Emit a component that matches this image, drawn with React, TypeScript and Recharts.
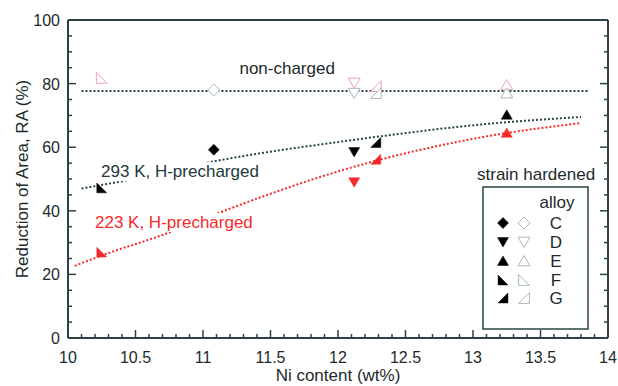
import React from 'react';
import { ComposedChart, Line, Scatter, XAxis, YAxis, ReferenceDot } from 'recharts';

const FONT = '"Liberation Sans", Arial, Helvetica, sans-serif';
const AXIS = '#2a4446';
const INK = '#1c2a2c';
const RED = '#f42a2a';
const GREY_OPEN = '#a9b9c2';
const PINK_OPEN = '#f2a3ab';

const alloys = ['C', 'D', 'E', 'F', 'G'];

// filled symbols: 293 K, H-precharged
const h293 = [
  { ni: 10.25, ra: 47.2, alloy: 'F' },
  { ni: 11.08, ra: 59.2, alloy: 'C' },
  { ni: 12.12, ra: 58.5, alloy: 'D' },
  { ni: 12.28, ra: 61.5, alloy: 'G' },
  { ni: 13.25, ra: 70.2, alloy: 'E' },
];
// filled symbols: 223 K, H-precharged
const h223 = [
  { ni: 10.25, ra: 27, alloy: 'F' },
  { ni: 12.12, ra: 49, alloy: 'D' },
  { ni: 12.28, ra: 56.2, alloy: 'G' },
  { ni: 13.25, ra: 64.5, alloy: 'E' },
];
// open symbols: non-charged
const nc293 = [
  { ni: 11.08, ra: 78, alloy: 'C' },
  { ni: 12.12, ra: 77, alloy: 'D' },
  { ni: 12.28, ra: 77, alloy: 'G' },
  { ni: 13.25, ra: 77, alloy: 'E' },
];
const nc223 = [
  { ni: 10.25, ra: 81.8, alloy: 'F' },
  { ni: 12.12, ra: 80.2, alloy: 'D' },
  { ni: 12.28, ra: 79.2, alloy: 'G' },
  { ni: 13.25, ra: 79.6, alloy: 'E' },
];

// dotted guide lines
const fitNc = [
  { ni: 10.1, ra: 77.7 },
  { ni: 13.85, ra: 77.7 },
];
const fit293 = [
  { ni: 10.1, ra: 47 },
  { ni: 10.4, ra: 49.3 },
  { ni: 11.1, ra: 55.7 },
  { ni: 12.1, ra: 62.2 },
  { ni: 13.1, ra: 67.3 },
  { ni: 13.8, ra: 69.5 },
];
const fit223 = [
  { ni: 10.05, ra: 22.7 },
  { ni: 10.3, ra: 26.7 },
  { ni: 10.7, ra: 32.4 },
  { ni: 11.07, ra: 38.6 },
  { ni: 12.09, ra: 53.5 },
  { ni: 13.1, ra: 63.4 },
  { ni: 13.8, ra: 67.6 },
];

const xTicks = [10, 10.5, 11, 11.5, 12, 12.5, 13, 13.5, 14];
const yTicks = [0, 20, 40, 60, 80, 100];
const xMinor = Array.from({ length: 41 }, (_, i) => Math.round((10 + i * 0.1) * 10) / 10);
const yMinor = Array.from({ length: 21 }, (_, i) => i * 5);

function markerPoints(alloy: string, cx: number, cy: number, r: number) {
  switch (alloy) {
    case 'C':
      return `${cx},${cy - r} ${cx + r},${cy} ${cx},${cy + r} ${cx - r},${cy}`;
    case 'D':
      return `${cx - r},${cy - r * 0.8} ${cx + r},${cy - r * 0.8} ${cx},${cy + r * 0.9}`;
    case 'E':
      return `${cx - r},${cy + r * 0.8} ${cx + r},${cy + r * 0.8} ${cx},${cy - r * 0.9}`;
    case 'F':
      return `${cx - r * 0.9},${cy - r * 0.9} ${cx - r * 0.9},${cy + r * 0.9} ${cx + r * 0.9},${cy + r * 0.9}`;
    default:
      return `${cx + r * 0.9},${cy - r * 0.9} ${cx + r * 0.9},${cy + r * 0.9} ${cx - r * 0.9},${cy + r * 0.9}`;
  }
}

const Marker = ({ cx, cy, alloy, color, open }: any) => (
  <polygon
    points={markerPoints(alloy, cx, cy, open ? 6 : 5.5)}
    fill={open ? '#fff' : color}
    stroke={color}
    strokeWidth={open ? 1 : 0.5}
  />
);

const shapeFor = (color: string, open: boolean) => (p: any) =>
  <Marker cx={p.cx} cy={p.cy} alloy={p.payload.alloy} color={color} open={open} />;

const BottomTick = ({ x, y, payload }: any) => {
  const major = xTicks.includes(payload.value);
  return (
    <g>
      <line x1={x} x2={x} y1={y} y2={y - (major ? 8 : 4)} stroke={AXIS} strokeWidth={1.5} />
      {major && (
        <text x={x} y={y + 25} textAnchor="middle" fontSize={16} fill={INK} fontFamily={FONT}>
          {payload.value}
        </text>
      )}
    </g>
  );
};
const TopTick = ({ x, y, payload }: any) => {
  const major = xTicks.includes(payload.value);
  return <line x1={x} x2={x} y1={y} y2={y + (major ? 8 : 4)} stroke={AXIS} strokeWidth={1.5} />;
};
const LeftTick = ({ x, y, payload }: any) => {
  const major = yTicks.includes(payload.value);
  return (
    <g>
      <line x1={x} x2={x + (major ? 8 : 4)} y1={y} y2={y} stroke={AXIS} strokeWidth={1.5} />
      {major && (
        <text x={x - 8} y={y + 6} textAnchor="end" fontSize={16} fill={INK} fontFamily={FONT}>
          {payload.value}
        </text>
      )}
    </g>
  );
};
const RightTick = ({ x, y, payload }: any) => {
  const major = yTicks.includes(payload.value);
  return <line x1={x} x2={x - (major ? 8 : 4)} y1={y} y2={y} stroke={AXIS} strokeWidth={1.5} />;
};

const note = (text: string, color: string, boxW: number) => (props: any) => {
  const { x, y } = props.viewBox;
  return (
    <g>
      {boxW > 0 && <rect x={x - 2} y={y - 15} width={boxW} height={19} fill="#fff" />}
      <text x={x} y={y} fontSize={17} fill={color} fontFamily={FONT}>
        {text}
      </text>
    </g>
  );
};

const yLabel = (props: any) => {
  const { x, y, height } = props.viewBox;
  const cx = x + 22;
  const cy = y + height / 2;
  return (
    <text x={cx} y={cy} transform={`rotate(-90 ${cx} ${cy})`} textAnchor="middle" dominantBaseline="central"
      fontSize={17} fill={INK} fontFamily={FONT}>
      Reduction of Area, RA (%)
    </text>
  );
};
const xLabel = (props: any) => {
  const { x, y, width } = props.viewBox;
  return (
    <text x={x + width / 2} y={y + 43} textAnchor="middle" fontSize={17} fill={INK} fontFamily={FONT}>
      Ni content (wt%)
    </text>
  );
};

const LegendBox = () => {
  const rowY = [223, 242, 261, 280, 298];
  return (
    <svg width={618} height={386} style={{ position: 'absolute', left: 0, top: 0, pointerEvents: 'none' }}>
      <text x={477} y={180} fontSize={17} fill={INK} fontFamily={FONT}>strain hardened</text>
      <rect x={483} y={187} width={105} height={142} fill="none" stroke={AXIS} strokeWidth={1.5} />
      <text x={557} y={208} textAnchor="middle" fontSize={17} fill={INK} fontFamily={FONT}>alloy</text>
      {alloys.map((a, i) => (
        <g key={a}>
          <Marker cx={503} cy={rowY[i]} alloy={a} color="#000" open={false} />
          <Marker cx={524} cy={rowY[i]} alloy={a} color={GREY_OPEN} open />
          <text x={556} y={rowY[i] + 6} textAnchor="middle" fontSize={17} fill={INK} fontFamily={FONT}>{a}</text>
        </g>
      ))}
    </svg>
  );
};

export default function App() {
  return (
    <div style={{ position: 'absolute', left: 0, top: 0, width: 618, height: 386, background: '#fff' }}>
      <ComposedChart width={618} height={386} margin={{ top: 0, right: 0, bottom: 0, left: 0 }}>
        <XAxis dataKey="ni" type="number" domain={[10, 14]} ticks={xMinor} interval={0} height={48}
          tickSize={0} tickMargin={0} tick={<BottomTick />} axisLine={{ stroke: AXIS, strokeWidth: 2 }}
          allowDataOverflow label={xLabel} />
        <XAxis xAxisId="top" orientation="top" type="number" domain={[10, 14]} ticks={xMinor} interval={0}
          height={20} tickSize={0} tickMargin={0} tick={<TopTick />} axisLine={{ stroke: AXIS, strokeWidth: 2 }}
          allowDataOverflow />
        <YAxis dataKey="ra" type="number" domain={[0, 100]} ticks={yMinor} interval={0} width={68}
          tickSize={0} tickMargin={0} tick={<LeftTick />} axisLine={{ stroke: AXIS, strokeWidth: 2 }}
          allowDataOverflow label={yLabel} />
        <YAxis yAxisId="right" orientation="right" type="number" domain={[0, 100]} ticks={yMinor} interval={0}
          width={10} tickSize={0} tickMargin={0} tick={<RightTick />} axisLine={{ stroke: AXIS, strokeWidth: 2 }}
          allowDataOverflow />

        <Line data={fitNc} dataKey="ra" type="linear" stroke={AXIS} strokeWidth={2} strokeDasharray="2 2"
          dot={false} activeDot={false} isAnimationActive={false} />
        <Line data={fit293} dataKey="ra" type="monotone" stroke={AXIS} strokeWidth={2} strokeDasharray="2 2"
          dot={false} activeDot={false} isAnimationActive={false} />
        <Line data={fit223} dataKey="ra" type="monotone" stroke={RED} strokeWidth={2} strokeDasharray="2 2"
          dot={false} activeDot={false} isAnimationActive={false} />

        <ReferenceDot x={11.27} y={83} r={0} label={note('non-charged', INK, 0)} />
        <ReferenceDot x={10.245} y={50.6} r={0} label={note('293 K, H-precharged', '#22383a', 162)} />
        <ReferenceDot x={10.2} y={34.6} r={0} label={note('223 K, H-precharged', RED, 162)} />

        <Scatter data={nc223} dataKey="ra" shape={shapeFor(PINK_OPEN, true)} isAnimationActive={false} />
        <Scatter data={nc293} dataKey="ra" shape={shapeFor(GREY_OPEN, true)} isAnimationActive={false} />
        <Scatter data={h293} dataKey="ra" shape={shapeFor('#000', false)} isAnimationActive={false} />
        <Scatter data={h223} dataKey="ra" shape={shapeFor(RED, false)} isAnimationActive={false} />
      </ComposedChart>
      <LegendBox />
    </div>
  );
}
